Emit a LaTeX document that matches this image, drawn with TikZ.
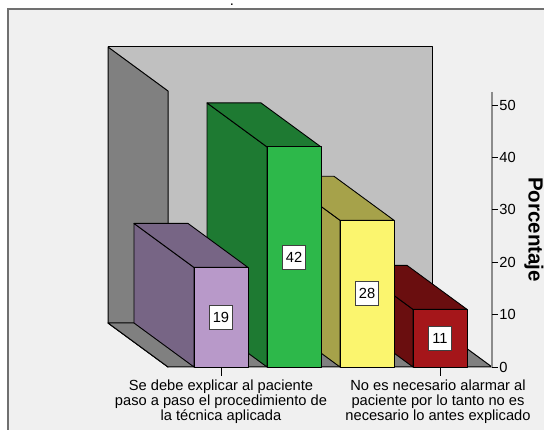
\documentclass[tikz,border=0pt]{standalone}
\usepackage{fontspec}
\setmainfont{Liberation Sans}
\usepackage{tkz-euclide}

\definecolor{panel}{HTML}{F0F0F0}
\definecolor{framegray}{HTML}{707070}
\definecolor{wallback}{HTML}{C0C0C0}
\definecolor{wallside}{HTML}{808080}
\definecolor{axisgray}{HTML}{8C8C8C}
\definecolor{purfront}{HTML}{B899C9}
\definecolor{purside}{HTML}{776585}
\definecolor{grnfront}{HTML}{2DB84A}
\definecolor{grnside}{HTML}{1E7A32}
\definecolor{yelfront}{HTML}{FBF56E}
\definecolor{yelside}{HTML}{A6A24A}
\definecolor{redfront}{HTML}{A5161A}
\definecolor{redside}{HTML}{6A0E0F}

\tikzset{
  barline/.style={draw=black,line width=0.9pt,line join=round},
  valbox/.style={draw=black!75,fill=white,line width=0.8pt,inner sep=0pt,
    minimum width=23pt,minimum height=24pt,font=\fontsize{14.67}{16}\selectfont},
  catlabel/.style={align=center,inner sep=1pt,font=\fontsize{14.67}{15}\selectfont},
}

\begin{document}
\begin{tikzpicture}[x=1pt,y=-1pt]
                    \useasboundingbox (0,0) rectangle (544,430);
                    \fill[white] (0,0) rectangle (544,430);
                    \draw[framegray,line width=1.5pt,fill=panel] (8,9) rectangle (560,450);
                    \node[anchor=base,inner sep=0pt,font=\fontsize{14.67}{16}\selectfont] (ttl) at (232,6) {.};
                    % walls and floor
                    \tkzDefPoints{108/47/W1,432/47/W2,432/323/W3,108/323/W4,168/91/L1,168/367/L2,492/367/F2}
                    \tkzDrawPolygon[fill=wallback,line width=1pt](W1,W2,W3,W4)
                    \tkzDrawPolygon[fill=wallside,line width=1pt](W1,L1,L2,W4)
                    \tkzDrawPolygon[fill=wallside,line width=1pt](W4,W3,F2,L2)
                    % bars, drawn from the back (right) to the front (left)
                    \foreach \xl/\val/\fr/\sd in {413/11/redfront/redside,340/28/yelfront/yelside,267/42/grnfront/grnside,194/19/purfront/purside}{
                      \pgfmathsetmacro{\yt}{367-5.24*\val}
                      \filldraw[barline,fill=\sd] (\xl,367) -- (\xl,\yt) -- ++(-60,-44) -- (\xl-60,323) -- cycle;
                      \filldraw[barline,fill=\sd] (\xl,\yt) -- ++(54,0) -- ++(-60,-44) -- ++(-54,0) -- cycle;
                      \filldraw[barline,fill=\fr] (\xl,\yt) rectangle (\xl+54,367);
                      \node[valbox] (v\val) at (\xl+27,{(\yt+367)/2}) {\val};
                    }
                    % value axis
                    \draw[axisgray,line width=1.3pt] (492,92) -- (492,367);
                    \foreach \v in {0,10,...,50}
                      \draw[line width=0.9pt] (492,367-5.24*\v) -- ++(6,0)
                        node[right,inner sep=1pt,font=\fontsize{14.67}{16}\selectfont] (t\v) {\v};
                    \node[rotate=-90,anchor=base,inner sep=0pt,font=\bfseries\fontsize{20.5}{22}\selectfont] (ytitle) at (528.5,229.5) {Porcentaje};
                    % categories
                    \draw[line width=0.9pt] (221,367) -- (221,376);
                    \draw[line width=0.9pt] (440,367) -- (440,376);
                    \node[catlabel,anchor=north] (catA) at (221,379) {Se debe explicar al paciente\\paso a paso el procedimiento de\\la técnica aplicada};
                    \node[catlabel,anchor=north] (catB) at (438,379) {No es necesario alarmar al\\paciente por lo tanto no es\\necesario lo antes explicado};
                \end{tikzpicture}
\end{document}
